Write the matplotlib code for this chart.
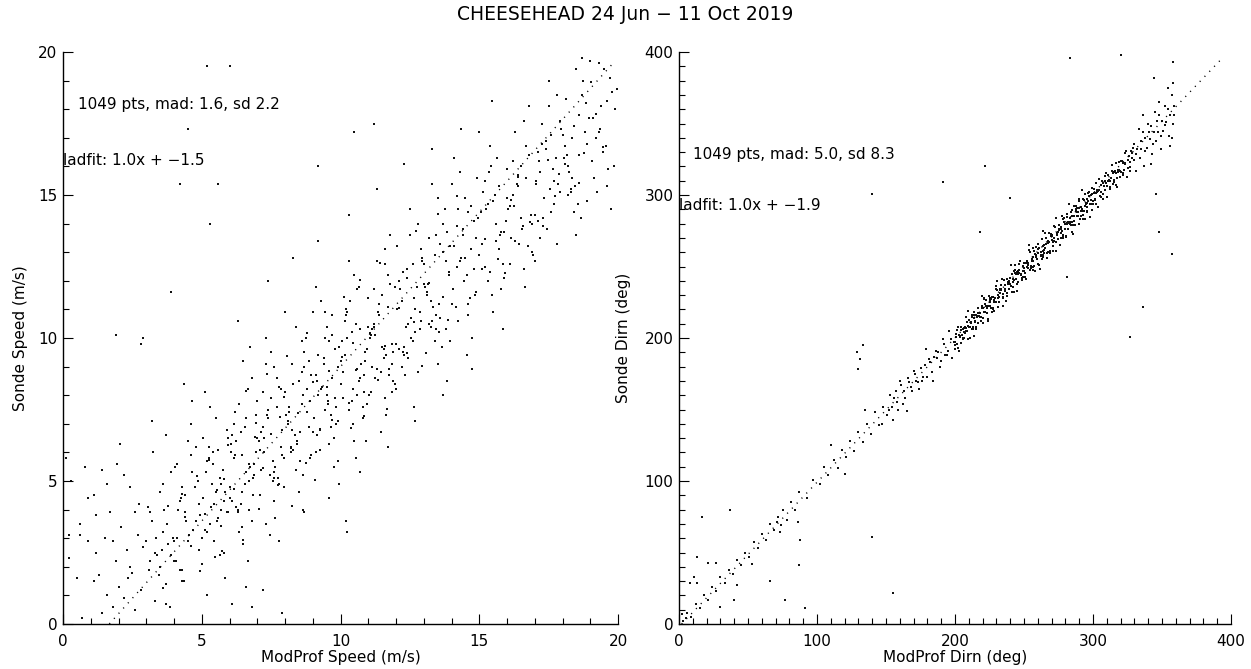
import matplotlib
matplotlib.use("Agg")
import matplotlib.pyplot as plt
import numpy as np
from matplotlib.ticker import MultipleLocator

# ---------------- data: wind speed (m/s) ----------------
speed_modprof = [
    0.1, 0.3, 0.5, 0.7, 0.9, 0.6, 0.2, 0.8,
    1.1, 1.2, 1.3, 1.4, 1.5, 1.6, 1.7, 1.8, 1.9, 1.2, 1.4, 1.6, 1.8, 1.1, 1.95,
    2.0, 2.1, 2.2, 2.3, 2.4, 2.5, 2.6, 2.7, 2.8, 2.9, 2.2, 2.4, 2.6, 2.8, 2.9, 2.05, 2.35, 2.75,
    3.0, 3.1, 3.2, 3.3, 3.4, 3.5, 3.6, 3.7, 3.8, 3.9, 3.05, 3.15, 3.25, 3.35, 3.45, 3.55, 3.65, 3.75, 3.85, 3.95, 3.2, 3.5, 3.7, 3.9, 3.6,
    4.55, 4.25, 4.9, 4.05, 4.7, 4.35, 4.15, 4.8, 4.45, 4.0, 4.65, 4.95, 4.3, 4.75, 4.1, 4.85, 4.5, 4.2, 4.6, 4.4, 4.6, 4.0, 4.8, 4.3, 4.1, 4.9, 4.5, 4.7, 4.2, 4.4, 4.35, 4.65,
    5.35, 5.8, 5.15, 5.6, 5.95, 5.05, 5.45, 5.25, 5.7, 5.5, 5.1, 5.4, 5.85, 5.0, 5.65, 5.3, 5.9, 5.55, 5.2, 5.75, 5.3, 5.7, 5.1, 5.9, 5.5, 5.0, 5.8, 5.4, 5.6, 5.2, 5.85, 5.25, 5.65, 5.95, 5.45, 5.55,
    6.7, 6.45, 6.05, 6.85, 6.2, 6.9, 6.3, 6.55, 6.0, 6.65, 6.4, 6.15, 6.75, 6.5, 6.95, 6.1, 6.35, 6.6, 6.8, 6.25, 6.8, 6.2, 6.5, 6.0, 6.7, 6.3, 6.9, 6.1, 6.6, 6.4, 6.65, 6.95, 6.25, 6.55, 6.85, 6.45, 6.3, 6.6, 6.75, 6.15,
    7.9, 7.6, 7.4, 7.15, 7.8, 7.25, 7.95, 7.0, 7.55, 7.3, 7.75, 7.5, 7.05, 7.65, 7.2, 7.45, 7.7, 7.85, 7.1, 7.35, 7.5, 7.9, 7.3, 7.6, 7.0, 7.8, 7.1, 7.4, 7.2, 7.7, 7.45, 7.85, 7.55, 7.95, 7.25, 7.65, 7.4, 7.8, 7.15, 7.6,
    8.25, 8.65, 8.0, 8.45, 8.85, 8.15, 8.55, 8.95, 8.35, 8.75, 8.2, 8.6, 8.05, 8.5, 8.9, 8.3, 8.7, 8.1, 8.4, 8.8, 8.4, 8.6, 8.0, 8.2, 8.8, 8.9, 8.1, 8.3, 8.7, 8.5, 8.65, 8.25, 8.95, 8.55, 8.85, 8.45, 8.3, 8.7, 8.15, 8.6,
    9.55, 9.25, 9.9, 9.05, 9.7, 9.35, 9.15, 9.8, 9.45, 9.0, 9.65, 9.95, 9.3, 9.75, 9.1, 9.85, 9.5, 9.2, 9.6, 9.4, 9.3, 9.7, 9.1, 9.9, 9.5, 9.0, 9.8, 9.4, 9.6, 9.2, 9.95, 9.45, 9.25, 9.85, 9.55, 9.65, 9.2, 9.6, 9.15, 9.7,
    10.7, 10.45, 10.05, 10.85, 10.2, 10.9, 10.3, 10.55, 10.0, 10.65, 10.4, 10.15, 10.75, 10.5, 10.95, 10.1, 10.35, 10.6, 10.8, 10.25, 10.5, 10.9, 10.3, 10.6, 10.0, 10.8, 10.1, 10.4, 10.2, 10.7, 10.55, 10.25, 10.95, 10.65, 10.85, 10.45, 10.3, 10.7, 10.15, 10.6, 10.2, 10.25,
    11.9, 11.6, 11.4, 11.15, 11.8, 11.25, 11.95, 11.0, 11.55, 11.3, 11.75, 11.5, 11.05, 11.65, 11.2, 11.45, 11.7, 11.85, 11.1, 11.35, 11.6, 11.0, 11.8, 11.3, 11.1, 11.9, 11.5, 11.7, 11.2, 11.4, 11.45, 11.95, 11.25, 11.65, 11.55, 11.85, 11.3, 11.7, 11.15, 11.6,
    12.35, 12.8, 12.15, 12.6, 12.95, 12.05, 12.45, 12.25, 12.7, 12.5, 12.1, 12.4, 12.85, 12.0, 12.65, 12.3, 12.9, 12.55, 12.2, 12.75, 12.8, 12.2, 12.5, 12.0, 12.7, 12.3, 12.9, 12.1, 12.6, 12.4, 12.65, 12.95, 12.25, 12.85, 12.45, 12.55, 12.3, 12.7,
    13.25, 13.65, 13.0, 13.45, 13.85, 13.15, 13.55, 13.95, 13.35, 13.75, 13.2, 13.6, 13.05, 13.5, 13.9, 13.3, 13.7, 13.1, 13.4, 13.8, 13.5, 13.9, 13.3, 13.6, 13.0, 13.8, 13.1, 13.4, 13.2, 13.7, 13.85, 13.45, 13.25, 13.55, 13.3, 13.7,
    14.55, 14.25, 14.9, 14.05, 14.7, 14.35, 14.15, 14.8, 14.45, 14.0, 14.65, 14.95, 14.3, 14.75, 14.1, 14.85, 14.5, 14.2, 14.6, 14.4, 14.3, 14.7, 14.1, 14.9, 14.5, 14.0, 14.8, 14.4, 14.6, 14.2, 14.55, 14.25, 14.35, 14.75,
    15.7, 15.45, 15.05, 15.85, 15.2, 15.9, 15.3, 15.55, 15.0, 15.65, 15.4, 15.15, 15.75, 15.5, 15.95, 15.1, 15.35, 15.6, 15.8, 15.25, 15.4, 15.6, 15.0, 15.2, 15.8, 15.9, 15.1, 15.3, 15.7, 15.5, 15.45, 15.85,
    16.9, 16.6, 16.4, 16.15, 16.8, 16.25, 16.95, 16.0, 16.55, 16.3, 16.75, 16.5, 16.05, 16.65, 16.2, 16.45, 16.7, 16.85, 16.1, 16.35, 16.6, 16.0, 16.8, 16.3, 16.1, 16.9, 16.5, 16.7, 16.2, 16.4,
    17.35, 17.8, 17.15, 17.6, 17.95, 17.05, 17.45, 17.25, 17.7, 17.5, 17.1, 17.4, 17.85, 17.0, 17.65, 17.3, 17.9, 17.55, 17.2, 17.75, 17.8, 17.2, 17.5, 17.0, 17.7, 17.3, 17.9, 17.1, 17.6, 17.4,
    18.25, 18.65, 18.0, 18.45, 18.85, 18.15, 18.55, 18.95, 18.35, 18.75, 18.2, 18.6, 18.05, 18.5, 18.9, 18.3, 18.7, 18.1, 18.4, 18.8, 18.5, 18.1, 18.7, 18.3, 18.6, 18.9, 18.2, 18.4,
    19.55, 19.25, 19.9, 19.05, 19.7, 19.35, 19.15, 19.8, 19.45, 19.0, 19.65, 19.95, 19.3, 19.75, 19.1, 19.85, 19.5, 19.2, 19.6, 19.4, 19.3, 19.6,
    6.0, 5.2, 4.5, 4.2, 5.6, 5.3, 9.2, 3.9, 1.9, 7.2, 6.8, 7.9, 6.1, 5.2, 4.3, 3.7, 10.5, 11.2, 0.6, 0.2, 0.9,
    3.33, 3.78, 4.07, 4.41, 4.83, 5.12, 5.37, 5.68, 5.93, 6.18, 6.44, 6.72, 6.97, 7.21, 7.48, 7.73, 7.96, 8.22, 8.47, 8.76,
    9.02, 9.27, 9.53, 9.78, 10.04, 10.29, 10.56, 10.83, 11.08, 11.34, 11.61, 11.87, 12.12, 12.39, 12.66, 12.92, 13.18, 13.43, 13.71, 13.96,
    4.62, 5.04, 5.49, 5.81, 6.33, 6.58, 7.07, 7.36, 7.62, 8.09, 8.38, 8.81, 9.12, 9.44, 9.69, 10.12, 10.38, 10.71, 11.03, 11.42,
    11.76, 12.04, 12.31, 12.72, 13.07, 13.52, 13.88, 14.21, 14.58, 14.93, 3.14, 3.61, 4.28, 4.92, 5.26, 5.74, 6.06, 6.49, 6.91, 7.33,
    7.81, 8.27, 8.64, 9.08, 9.57, 9.91, 10.44, 10.92, 11.22, 11.68, 15.22, 15.68, 16.13, 16.57, 17.04, 17.46, 17.88, 18.33, 18.77, 19.21,
    15.41, 15.94, 16.39, 16.82, 17.27, 17.73, 18.12, 18.58, 19.03, 19.47,
]
speed_sonde = [
    5.8, 5.0, 1.6, 0.2, 4.4, 3.1, 2.3, 5.5,
    4.5, 2.5, 1.7, 5.4, 3.0, 1.0, 3.9, 0.6, 2.2, 3.8, 0.4, 4.9, 2.9, 1.5, 5.6,
    1.3, 3.4, 0.9, 2.6, 4.8, 1.8, 0.5, 3.1, 9.8, 10.0, 5.2, 2.0, 3.9, 1.2, 2.7, 6.3, 1.6, 4.2,
    2.9, 1.9, 3.6, 0.8, 2.4, 4.6, 3.2, 1.4, 2.8, 5.3, 4.1, 2.2, 6.0, 3.0, 1.7, 2.6, 4.0, 3.5, 0.6, 3.0, 7.1, 2.0, 6.6, 2.4, 4.9,
    3.1, 4.4, 2.6, 5.5, 3.3, 1.5, 4.0, 6.2, 3.6, 2.2, 7.8, 3.8, 1.9, 4.8, 3.0, 5.0, 2.9, 4.3, 7.0, 3.9, 5.9, 2.9, 3.6, 4.8, 5.6, 4.2, 6.4, 3.3, 1.9, 4.5, 8.4, 5.3,
    4.1, 2.5, 5.3, 3.7, 6.5, 4.4, 2.9, 5.8, 4.0, 7.2, 3.3, 6.0, 4.6, 2.1, 5.1, 3.5, 6.8, 4.7, 3.2, 5.4, 7.6, 4.9, 8.1, 3.9, 4.6, 3.0, 4.3, 5.6, 6.1, 5.7, 1.6, 6.2, 2.4, 3.9, 4.2, 3.6,
    5.0, 3.4, 6.3, 4.5, 7.4, 5.6, 3.9, 6.9, 4.8, 8.2, 4.2, 7.0, 5.5, 2.8, 6.0, 4.3, 7.7, 5.3, 3.6, 6.4, 8.6, 5.9, 9.2, 4.4, 5.6, 4.0, 5.2, 6.6, 7.2, 6.7, 2.2, 7.3, 4.1, 4.9, 5.1, 4.6, 10.6, 1.3, 9.7, 5.8,
    5.9, 4.3, 7.2, 5.4, 8.3, 6.5, 4.8, 7.8, 5.7, 9.1, 5.1, 7.9, 6.4, 3.7, 6.9, 5.2, 8.6, 6.2, 4.5, 7.3, 9.5, 6.8, 10.0, 5.3, 6.5, 4.9, 6.1, 7.5, 8.1, 7.6, 3.1, 8.2, 5.0, 5.8, 6.0, 5.5, 12.0, 2.9, 6.7, 9.0,
    6.8, 5.2, 8.1, 6.3, 9.2, 7.4, 5.7, 8.7, 6.6, 10.0, 6.0, 8.8, 7.3, 4.6, 7.8, 6.1, 9.5, 7.1, 5.4, 8.2, 10.4, 7.7, 10.9, 6.2, 7.4, 5.8, 7.0, 8.4, 9.0, 8.5, 4.0, 9.1, 5.9, 6.7, 6.9, 6.4, 12.8, 3.9, 7.6, 9.9,
    7.7, 6.1, 9.0, 7.2, 10.1, 8.3, 6.6, 9.6, 7.5, 10.9, 6.9, 9.7, 8.2, 5.5, 8.7, 7.0, 10.4, 8.0, 6.3, 9.1, 11.3, 8.6, 11.8, 7.1, 8.3, 6.7, 7.9, 9.3, 9.9, 9.4, 4.9, 10.0, 6.8, 7.6, 7.8, 7.3, 13.4, 4.4, 8.5, 10.8,
    8.6, 7.0, 9.9, 8.1, 11.0, 9.2, 7.5, 10.5, 8.4, 11.8, 7.8, 10.6, 9.1, 6.4, 9.6, 7.9, 11.3, 8.9, 7.2, 10.0, 12.2, 9.5, 12.7, 8.0, 9.2, 7.6, 8.8, 10.2, 10.8, 10.3, 5.8, 10.9, 7.7, 8.5, 8.7, 8.2, 14.3, 5.3, 9.4, 11.7, 3.6, 3.2,
    9.5, 7.9, 10.8, 9.0, 11.9, 10.1, 8.4, 11.4, 9.3, 12.7, 8.7, 11.5, 10.0, 7.3, 10.5, 8.8, 12.2, 9.8, 8.1, 10.9, 13.1, 10.4, 13.6, 8.9, 10.1, 8.5, 9.7, 11.1, 11.7, 11.2, 6.7, 11.8, 8.6, 9.4, 9.6, 9.1, 15.2, 6.2, 10.3, 12.6,
    10.4, 8.8, 11.7, 9.9, 12.8, 11.0, 9.3, 12.3, 10.2, 13.6, 9.6, 12.4, 10.9, 8.2, 11.4, 9.7, 13.1, 10.7, 9.0, 11.8, 14.0, 11.3, 14.5, 9.8, 11.0, 9.4, 10.6, 12.0, 12.6, 12.1, 7.6, 12.7, 9.5, 10.3, 10.5, 10.0, 16.1, 7.1,
    11.3, 9.7, 12.6, 10.8, 13.7, 11.9, 10.2, 13.2, 11.1, 14.5, 10.5, 13.3, 11.8, 9.1, 12.3, 10.6, 14.0, 11.6, 9.9, 12.7, 14.9, 12.2, 15.4, 10.7, 11.9, 10.3, 11.5, 12.9, 13.5, 13.0, 8.5, 13.6, 10.4, 11.2, 16.6, 8.0,
    12.2, 10.6, 13.5, 11.7, 14.6, 12.8, 11.1, 14.1, 12.0, 15.4, 11.4, 14.2, 12.7, 10.0, 13.2, 11.5, 14.9, 12.5, 10.8, 13.6, 15.8, 13.1, 16.3, 11.6, 12.8, 11.2, 12.4, 13.8, 14.4, 13.9, 9.4, 14.5, 17.3, 8.9,
    13.1, 11.5, 14.4, 12.6, 15.5, 13.7, 12.0, 15.0, 12.9, 16.3, 12.3, 15.1, 13.6, 10.9, 14.1, 12.4, 15.8, 13.4, 11.7, 14.5, 16.7, 14.0, 17.2, 12.5, 13.7, 12.1, 13.3, 14.7, 15.3, 14.8, 18.3, 10.3,
    14.0, 12.4, 15.3, 13.5, 16.4, 14.6, 12.9, 15.9, 13.8, 17.2, 13.2, 16.0, 14.5, 11.8, 15.0, 13.3, 16.7, 14.3, 12.6, 15.4, 17.6, 14.9, 18.1, 13.4, 14.6, 13.0, 14.2, 15.6, 16.2, 15.7,
    14.9, 13.3, 16.2, 14.4, 17.3, 15.5, 13.8, 16.8, 14.7, 18.1, 14.1, 16.9, 15.4, 12.7, 15.9, 14.2, 17.6, 15.2, 13.5, 16.3, 18.5, 15.8, 19.0, 14.3, 15.5, 13.9, 15.1, 16.5, 17.1, 16.6,
    15.8, 14.2, 17.1, 15.3, 18.2, 16.4, 14.7, 17.7, 15.6, 19.0, 15.0, 17.8, 16.3, 13.6, 16.8, 15.1, 18.5, 16.1, 14.4, 17.2, 19.4, 16.7, 19.8, 15.2, 16.4, 14.8, 16.0, 17.4,
    16.7, 15.1, 18.0, 16.2, 19.1, 17.3, 15.6, 18.6, 16.5, 19.7, 15.9, 18.7, 17.2, 14.5, 17.7, 16.0, 19.4, 17.0, 15.3, 18.1, 19.6, 18.3,
    19.5, 19.5, 17.3, 15.4, 15.4, 14.0, 16.0, 11.6, 10.1, 1.2, 0.6, 0.4, 0.7, 1.0, 1.5, 0.7, 17.2, 17.5, 3.5, 3.1, 2.9,
    2.47, 4.12, 2.21, 3.74, 5.18, 3.86, 4.91, 3.42, 6.27, 4.73, 5.91, 3.98, 7.04, 5.44, 6.63, 4.86, 7.92, 6.15, 7.38, 5.62,
    8.47, 6.83, 8.02, 6.51, 9.33, 7.71, 8.88, 7.29, 10.16, 8.54, 9.72, 8.11, 11.04, 9.46, 10.57, 9.02, 11.92, 10.31, 11.45, 9.88,
    2.73, 6.52, 2.34, 5.07, 3.21, 8.14, 4.02, 8.73, 5.12, 9.36, 5.37, 10.18, 6.02, 10.91, 7.12, 11.42, 6.86, 12.03, 8.02, 12.61,
    8.93, 13.21, 8.72, 13.73, 9.47, 14.34, 10.63, 14.96, 11.18, 15.61, 3.92, 1.27, 4.53, 1.86, 5.73, 2.56, 6.01, 2.93, 6.53, 3.48,
    7.24, 4.12, 8.01, 5.02, 8.83, 5.71, 9.82, 6.41, 10.37, 7.52, 13.46, 12.77, 14.83, 13.92, 15.37, 16.22, 15.73, 17.01, 16.48, 17.83,
    16.02, 12.29, 15.64, 14.07, 17.48, 14.96, 18.37, 15.41, 18.94, 16.67,
]
speed_fit_x = [1.67, 19.8]      # ends of the ladfit line
speed_fit_coef = (1.08, -1.8)    # slope, intercept as drawn

# ---------------- data: wind direction (deg) ----------------
dirn_modprof = [
    3, 6, 9, 12, 15, 18, 21, 24, 27, 30, 33, 36, 39, 42, 45, 48, 51, 54, 57, 60, 63, 66, 69, 72, 75, 78, 81, 84, 87, 93, 97,
    37, 17, 140, 86, 88, 87, 77, 40, 91, 155, 30, 13, 21, 27, 53, 66, 8, 13, 42, 5, 2, 11, 73, 74, 71,
    102, 105, 108, 112, 115, 118, 121, 124, 127, 130, 133, 136, 139, 142, 145, 148, 110, 120, 135, 147, 129, 131, 130, 133,
    151, 153, 155, 157, 158, 160, 162, 163, 165, 167, 169, 170, 172, 174, 175, 177, 179, 180, 182, 184, 186, 187, 189, 191, 193,
    195, 196, 198, 199, 152, 156, 161, 164, 168, 171, 176, 178, 183, 185, 188, 190, 192, 194, 197, 154, 159, 166, 173, 181, 200,
    200, 201, 202, 203, 204, 205, 206, 207, 208, 209, 210, 211, 212, 213, 214, 215, 216, 217, 218, 219, 220, 221, 222, 223, 224,
    225, 226, 227, 228, 229, 230, 231, 232, 233, 234, 235, 236, 237, 238, 239, 240, 241, 242, 243, 244, 245, 246, 247, 248, 249,
    200.5, 201.5, 202.5, 203.5, 204.5, 205.5, 206.5, 207.5, 208.5, 209.5, 210.5, 211.5, 212.5, 213.5, 214.5, 215.5, 216.5, 217.5,
    218.5, 219.5, 220.5, 221.5, 222.5, 223.5, 224.5, 225.5, 226.5, 227.5, 228.5, 229.5, 230.5, 231.5, 232.5, 233.5, 234.5, 235.5,
    236.5, 237.5, 238.5, 239.5, 240.5, 241.5, 242.5, 243.5, 244.5, 245.5, 246.5, 247.5, 248.5, 249.5,
    200.2, 201.7, 203.2, 204.7, 206.2, 207.7, 209.2, 210.7, 212.2, 213.7, 215.2, 216.7, 218.2, 219.7, 221.2, 222.7, 224.2, 225.7,
    227.2, 228.7, 230.2, 231.7, 233.2, 234.7, 236.2, 237.7, 239.2, 240.7, 242.2, 243.7, 245.2, 246.7, 248.2,
    250, 251, 252, 253, 254, 255, 256, 257, 258, 259, 260, 261, 262, 263, 264, 265, 266, 267, 268, 269, 270, 271, 272, 273, 274,
    275, 276, 277, 278, 279, 280, 281, 282, 283, 284, 285, 286, 287, 288, 289, 290, 291, 292, 293, 294, 295, 296, 297, 298, 299,
    250.5, 251.5, 252.5, 253.5, 254.5, 255.5, 256.5, 257.5, 258.5, 259.5, 260.5, 261.5, 262.5, 263.5, 264.5, 265.5, 266.5, 267.5,
    268.5, 269.5, 270.5, 271.5, 272.5, 273.5, 274.5, 275.5, 276.5, 277.5, 278.5, 279.5, 280.5, 281.5, 282.5, 283.5, 284.5, 285.5,
    286.5, 287.5, 288.5, 289.5, 290.5, 291.5, 292.5, 293.5, 294.5, 295.5, 296.5, 297.5, 298.5, 299.5,
    250.3, 251.5, 252.7, 253.9, 255.1, 256.3, 257.5, 258.7, 259.9, 261.1, 262.3, 263.5, 264.7, 265.9, 267.1, 268.3, 269.5, 270.7,
    271.9, 273.1, 274.3, 275.5, 276.7, 277.9, 279.1, 280.3, 281.5, 282.7, 283.9, 285.1, 286.3, 287.5, 288.7, 289.9, 291.1, 292.3,
    293.5, 294.7, 295.9, 297.1, 298.3, 299.5,
    300, 301, 302, 303, 304, 305, 306, 307, 308, 309, 310, 311, 312, 313, 314, 315, 316, 317, 318, 319, 320, 321, 322, 323, 324,
    325, 326, 327, 328, 329,
    300.5, 301.5, 302.5, 303.5, 304.5, 305.5, 306.5, 307.5, 308.5, 309.5, 310.5, 311.5, 312.5, 313.5, 314.5, 315.5, 316.5, 317.5,
    318.5, 319.5, 320.5, 321.5, 322.5, 323.5, 324.5, 325.5, 326.5, 327.5, 328.5, 329.5,
    330, 331, 332, 333, 334, 335, 336, 337, 338, 339, 340, 341, 342, 343, 344, 345, 346, 347, 348, 349, 350, 351, 352, 353, 354,
    355, 356, 357, 358, 359,
    331.5, 334.5, 337.5, 340.5, 343.5, 346.5, 349.5, 352.5, 355.5, 358.5, 336, 342, 348, 354, 357,
    140, 320, 283, 358, 358, 344, 222, 191, 240, 218, 348, 357, 281, 346, 336, 327,
    203.4, 207.9, 211.3, 214.8, 218.2, 221.7, 225.1, 228.6, 232.4, 235.9, 239.3, 242.8, 246.2, 249.7, 253.1, 256.6, 260.4, 263.9, 267.3, 270.8,
    274.2, 277.7, 281.1, 284.6, 288.4, 291.9, 295.3, 298.8, 302.2, 305.7, 309.1, 312.6, 316.4, 319.9, 323.3, 326.8, 205.6, 209.2, 212.9, 216.5,
    220.1, 223.8, 227.4, 231.0, 234.7, 238.3, 241.9, 245.6, 249.2, 252.8, 256.5, 260.1, 263.7, 267.4, 271.0, 274.6, 278.3, 281.9, 285.5, 289.2,
    292.8, 296.4, 300.1, 303.7, 307.3, 311.0, 314.6, 318.2, 321.9, 325.5, 206.8, 213.5, 219.7, 226.3, 232.9, 239.1, 245.0, 251.6, 257.8, 264.4,
    270.2, 276.9, 283.3, 289.8, 296.0, 302.6, 308.8, 315.3, 229.5, 262.7, 285.9, 312.1, 243.4, 278.8, 301.5, 220.8, 256.2, 294.3, 317.7, 271.9,
]
dirn_sonde = [
    2, 8, 5, 14, 11, 20, 17, 26, 23, 33, 29, 38, 35, 45, 41, 50, 47, 57, 53, 63, 59, 70, 66, 75, 80, 73, 85, 80, 92, 88, 101,
    80, 75, 61, 71, 59, 41, 17, 17, 11, 22, 12, 47, 43, 43, 42, 30, 29, 29, 27, 4, 7, 33, 64, 69, 71,
    98, 110, 104, 115, 109, 122, 117, 128, 121, 134, 127, 140, 133, 148, 139, 152, 125, 105, 150, 140, 190, 185, 178, 195,
    146, 160, 143, 163, 155, 170, 154, 163, 149, 169, 163, 177, 170, 164, 179, 173, 192, 173, 183, 170, 191, 186, 180, 199, 188,
    191, 205, 186, 197, 150, 158, 167, 158, 166, 175, 170, 181, 176, 187, 190, 184, 196, 188, 199, 152, 150, 172, 169, 185, 192,
    195, 203, 193, 202, 208, 202, 199, 208, 215, 205, 208, 200, 215, 208, 216, 206, 215, 221, 215, 212, 221, 228, 218, 221, 213,
    228, 221, 229, 219, 228, 234, 228, 225, 234, 241, 231, 234, 226, 241, 234, 242, 232, 241, 247, 241, 238, 247, 254, 244, 247,
    200.5, 195.5, 207.5, 200.5, 196.5, 206.5, 204.5, 203.5, 211.5, 199.5, 212.5, 211.5, 206.5, 218.5, 211.5, 207.5, 217.5, 215.5,
    214.5, 222.5, 210.5, 223.5, 222.5, 217.5, 229.5, 222.5, 218.5, 228.5, 226.5, 225.5, 233.5, 221.5, 234.5, 233.5, 228.5, 240.5,
    233.5, 229.5, 239.5, 237.5, 236.5, 244.5, 232.5, 245.5, 244.5, 239.5, 251.5, 244.5, 240.5, 250.5,
    197.2, 205.7, 191.2, 205.7, 200.2, 206.7, 219.2, 207.7, 216.2, 201.7, 216.2, 210.7, 217.2, 229.7, 218.2, 226.7, 212.2, 226.7,
    221.2, 227.7, 240.2, 228.7, 237.2, 222.7, 237.2, 231.7, 238.2, 250.7, 239.2, 247.7, 233.2, 247.7, 242.2,
    249, 243, 254, 249, 260, 249, 254, 261, 247, 258, 252, 263, 258, 269, 258, 263, 270, 256, 267, 261, 272, 267, 278, 267, 272,
    279, 265, 276, 270, 281, 276, 287, 276, 281, 288, 274, 285, 279, 290, 285, 296, 285, 290, 297, 283, 294, 288, 299, 294, 305,
    245.5, 252.5, 249.5, 261.5, 247.5, 255.5, 247.5, 260.5, 256.5, 255.5, 265.5, 248.5, 257.5, 264.5, 261.5, 273.5, 259.5, 267.5,
    259.5, 272.5, 268.5, 267.5, 277.5, 260.5, 269.5, 276.5, 273.5, 285.5, 271.5, 279.5, 271.5, 284.5, 280.5, 279.5, 289.5, 272.5,
    281.5, 288.5, 285.5, 297.5, 283.5, 291.5, 283.5, 296.5, 292.5, 291.5, 301.5, 284.5, 293.5, 300.5,
    252.3, 241.5, 250.7, 264.9, 250.1, 256.3, 250.5, 263.7, 261.9, 251.1, 260.3, 274.5, 259.7, 265.9, 260.1, 273.3, 271.5, 260.7,
    269.9, 284.1, 269.3, 275.5, 269.7, 282.9, 281.1, 270.3, 279.5, 293.7, 278.9, 285.1, 279.3, 292.5, 290.7, 279.9, 289.1, 303.3,
    288.5, 294.7, 288.9, 302.1, 300.3, 289.5,
    296, 304, 294, 302, 311, 299, 307, 297, 306, 313, 306, 314, 304, 312, 321, 309, 317, 307, 316, 323, 316, 324, 314, 322, 331,
    319, 327, 317, 326, 333,
    301.5, 296.5, 308.5, 291.5, 303.5, 298.5, 309.5, 308.5, 303.5, 315.5, 298.5, 310.5, 305.5, 316.5, 315.5, 310.5, 322.5, 305.5,
    317.5, 312.5, 323.5, 322.5, 317.5, 329.5, 312.5, 324.5, 319.5, 330.5, 329.5, 324.5,
    336, 317, 332, 346, 326, 332, 344, 320, 340, 333, 350, 339, 348, 329, 344, 358, 338, 344, 356, 332, 352, 345, 362, 351, 360,
    341, 356, 370, 350, 356,
    329, 338, 331, 344, 336, 352, 341, 349, 334, 362, 356, 322, 365, 375, 340,
    301, 398, 396, 393, 378, 382, 320, 309, 298, 274, 274, 259, 243, 301, 222, 201,
    201.1, 204.8, 210.6, 211.9, 217.4, 218.3, 224.9, 225.2, 231.7, 232.8, 238.1, 240.6, 245.3, 246.9, 252.4, 253.5, 259.2, 260.7, 266.8, 267.6,
    273.5, 274.9, 280.2, 281.3, 287.9, 288.7, 294.1, 296.4, 301.6, 302.3, 308.5, 309.8, 315.2, 316.9, 322.6, 323.1, 199.8, 208.3, 206.4, 215.7,
    213.9, 222.6, 220.5, 230.1, 228.3, 237.5, 235.6, 244.8, 242.7, 251.9, 249.8, 259.3, 256.9, 266.6, 264.5, 273.8, 271.7, 281.0, 278.9, 288.3,
    286.1, 295.6, 293.4, 302.8, 300.6, 310.1, 307.9, 317.4, 315.2, 324.6, 206.9, 214.2, 220.8, 227.1, 233.8, 240.2, 246.3, 252.7, 258.9, 265.3,
    271.6, 277.8, 284.2, 290.9, 297.4, 303.5, 309.9, 316.1, 236.4, 255.1, 292.6, 304.3, 250.9, 283.6, 297.0, 227.5, 262.8, 300.7, 312.2, 278.4,
]
dirn_fit_x = [1.9, 394.0]
dirn_fit_coef = (1.01, -1.9)

TITLE = "CHEESEHEAD 24 Jun \u2212 11 Oct 2019"

# ---------------- figure ----------------
FS = 11
plt.rcParams["font.family"] = ["DejaVu Sans"]
fig = plt.figure(figsize=(12.51, 6.69), dpi=100)
fig.patch.set_facecolor("white")

axL = fig.add_axes([63 / 1251, 45 / 669, (618 - 63) / 1251, (624 - 52) / 669])
axR = fig.add_axes([679 / 1251, 45 / 669, (1231 - 679) / 1251, (624 - 52) / 669])


def style(ax, xmax, major, minor):
    ax.set_xlim(0, xmax)
    ax.set_ylim(0, xmax)
    for s in ("top", "right"):
        ax.spines[s].set_visible(False)
    for s in ("left", "bottom"):
        ax.spines[s].set_linewidth(1.0)
        ax.spines[s].set_color("black")
    ax.xaxis.set_major_locator(MultipleLocator(major))
    ax.yaxis.set_major_locator(MultipleLocator(major))
    ax.xaxis.set_minor_locator(MultipleLocator(minor))
    ax.yaxis.set_minor_locator(MultipleLocator(minor))
    ax.tick_params(which="major", direction="in", length=7, width=0.8,
                   labelsize=FS, colors="black")
    ax.tick_params(which="minor", direction="in", length=4.5, width=0.8)
    ax.tick_params(axis="x", which="major", pad=7)
    ax.tick_params(axis="y", which="major", pad=4)


# left panel: speed
style(axL, 20, 5, 1)
axL.scatter(speed_modprof, speed_sonde, s=1.4, marker="s", c="#111111",
            linewidths=0, clip_on=True)
fx = np.array(speed_fit_x)
axL.plot(fx, speed_fit_coef[0] * fx + speed_fit_coef[1], color="black",
         lw=1.0, linestyle=(0, (0.8, 4.2)))
axL.set_xlabel("ModProf Speed (m/s)", fontsize=FS, labelpad=1)
axL.set_ylabel("Sonde Speed (m/s)", fontsize=FS, labelpad=7)
axL.text(0.55, 18.15, "1049 pts, mad: 1.6, sd 2.2", fontsize=FS, va="center")
axL.text(0.0, 16.2, "ladfit: 1.0x + \u22121.5", fontsize=FS, va="center")

# right panel: direction
style(axR, 400, 100, 10)
axR.scatter(dirn_modprof, dirn_sonde, s=1.4, marker="s", c="#111111",
            linewidths=0, clip_on=True)
fx2 = np.array(dirn_fit_x)
axR.plot(fx2, dirn_fit_coef[0] * fx2 + dirn_fit_coef[1], color="black",
         lw=1.0, linestyle=(0, (0.8, 4.2)))
axR.set_xlabel("ModProf Dirn (deg)", fontsize=FS, labelpad=1)
axR.set_ylabel("Sonde Dirn (deg)", fontsize=FS, labelpad=9.5)
axR.text(10, 328, "1049 pts, mad: 5.0, sd 8.3", fontsize=FS, va="center")
axR.text(0, 293, "ladfit: 1.0x + \u22121.9", fontsize=FS, va="center")

fig.text(0.5, 1 - 14 / 669, TITLE, ha="center", va="center", fontsize=13.5)

fig.savefig("out.png", dpi=100, facecolor="white")
